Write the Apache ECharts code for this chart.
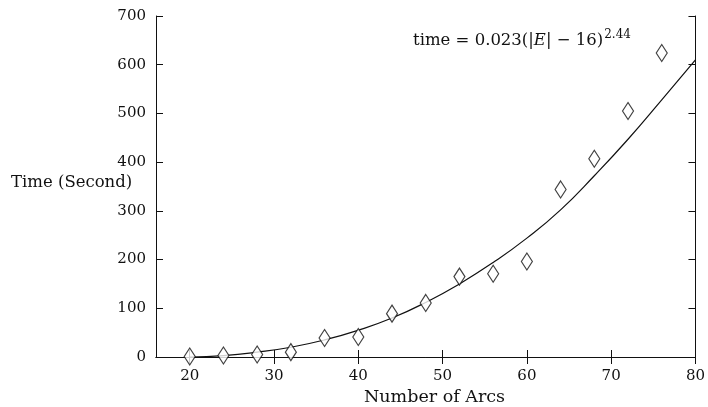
<!DOCTYPE html>
<html>
<head>
<meta charset="utf-8">
<script src="https://cdn.jsdelivr.net/npm/echarts@6/dist/echarts.min.js"></script>
<style>
  html, body { margin: 0; padding: 0; background: #fff; }
  #chart { width: 708px; height: 407px; }
</style>
</head>
<body>
<div id="chart"></div>
<script>
// measured run times (diamonds)
const arcs = [20, 24, 28, 32, 36, 40, 44, 48, 52, 56, 60, 64, 68, 72, 76];
const times = [1, 3, 5, 10, 39, 41, 89, 111, 165, 171, 196, 344, 407, 505, 624];

// fitted curve
const fitArcs = [20, 24, 28, 32, 36, 40, 44, 48, 52, 56, 60, 64, 68, 72, 76, 80];
const fitTimes = [0, 3, 10, 20, 35, 55, 80, 112, 150, 194, 244, 302, 372, 447, 528, 610];

const xTicks = [20, 30, 40, 50, 60, 70, 80];
const yTicks = [0, 100, 200, 300, 400, 500, 600, 700];

const serif = 'DejaVu Serif';
const black = '#111';

const chart = echarts.init(document.getElementById('chart'));

const frameAxis = {
  axisLine: { show: true, lineStyle: { color: black, width: 1 } },
  axisTick: { show: true, inside: true, length: 7, lineStyle: { color: black } },
  splitLine: { show: false }
};

chart.setOption({
  backgroundColor: '#fff',
  animation: false,
  grid: { left: 156, right: 8, top: 16, bottom: 50 },
  xAxis: [
    {
      type: 'value', min: 16, max: 80, position: 'bottom',
      ...frameAxis,
      axisTick: { ...frameAxis.axisTick, customValues: xTicks },
      axisLabel: {
        customValues: xTicks, margin: 12,
        fontFamily: serif, fontSize: 15, color: black
      }
    },
    {
      type: 'value', min: 16, max: 80, position: 'top',
      ...frameAxis,
      axisTick: { ...frameAxis.axisTick, customValues: xTicks },
      axisLabel: { show: false }
    }
  ],
  yAxis: [
    {
      type: 'value', min: 0, max: 700, interval: 100, position: 'left',
      ...frameAxis,
      axisLabel: { margin: 10, fontFamily: serif, fontSize: 15, color: black,
        customValues: yTicks }
    },
    {
      type: 'value', min: 0, max: 700, interval: 100, position: 'right',
      ...frameAxis,
      axisLabel: { show: false }
    }
  ],
  graphic: [
    {
      type: 'text', left: 11, top: 174,
      style: { text: 'Time (Second)', fontFamily: serif, fontSize: 16.5, fill: black }
    },
    {
      type: 'text', left: 364, top: 388,
      style: { text: 'Number of Arcs', fontFamily: serif, fontSize: 17.5, fill: black }
    },
    {
      type: 'text', left: 413, top: 29,
      style: {
        text: '{n|time = 0.023(|}{i|E}{n|| \u2212 16)}{s|2.44}',
        rich: {
          n: { fontFamily: serif, fontSize: 16.5, fill: black, verticalAlign: 'bottom', lineHeight: 24 },
          i: { fontFamily: serif, fontSize: 16.5, fontStyle: 'italic', fill: black, verticalAlign: 'bottom', lineHeight: 24 },
          s: { fontFamily: serif, fontSize: 12, fill: black, verticalAlign: 'bottom', lineHeight: 14, padding: [0, 0, 8, 1] }
        }
      }
    }
  ],
  series: [
    {
      type: 'line',
      data: fitArcs.map((x, i) => [x, fitTimes[i]]),
      smooth: true,
      showSymbol: false,
      lineStyle: { color: black, width: 1.2 },
      z: 2
    },
    {
      type: 'scatter',
      data: arcs.map((x, i) => [x, times[i]]),
      symbol: 'diamond',
      symbolSize: [11, 17],
      itemStyle: { color: '#fff', borderColor: black, borderWidth: 1.2 },
      z: 3
    }
  ]
});
</script>
</body>
</html>
